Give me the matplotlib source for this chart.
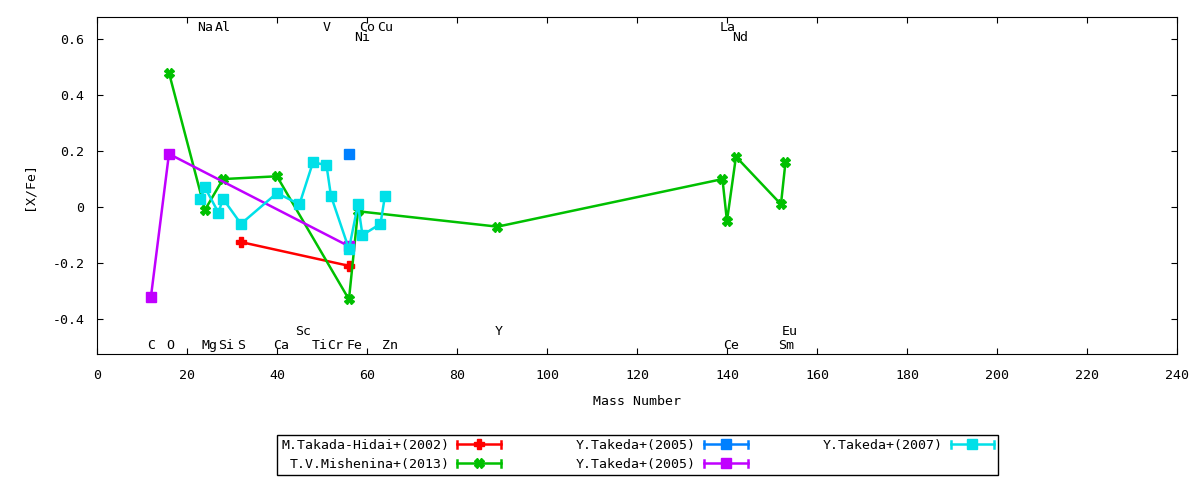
import numpy as np
import matplotlib
matplotlib.use("Agg")
import matplotlib.pyplot as plt
from matplotlib.lines import Line2D
from matplotlib.legend_handler import HandlerLine2D
from matplotlib.ticker import FuncFormatter

plt.rcParams['font.family'] = ['DejaVu Sans Mono']
plt.rcParams['font.size'] = 9.5

# M.Takada-Hidai+(2002)
takada_hidai_x = [32, 56]
takada_hidai_y = [-0.125, -0.21]

# T.V.Mishenina+(2013)
mishenina_x = [16, 24, 28, 40, 56, 58, 89, 139, 140, 142, 152, 153]
mishenina_y = [0.48, -0.01, 0.10, 0.11, -0.33, -0.015, -0.07, 0.10, -0.05, 0.18, 0.01, 0.16]

# Y.Takeda+(2005) single point
takeda05a_x = [56]
takeda05a_y = [0.19]

# Y.Takeda+(2005)
takeda05b_x = [12, 16, 56]
takeda05b_y = [-0.32, 0.19, -0.14]

# Y.Takeda+(2007)
takeda07_x = [23, 24, 27, 28, 32, 40, 45, 48, 51, 52, 56, 58, 59, 63, 64]
takeda07_y = [0.03, 0.07, -0.02, 0.03, -0.06, 0.05, 0.01, 0.16, 0.15, 0.04,
              -0.15, 0.01, -0.10, -0.06, 0.04]

# element names along top / bottom (name, mass number)
top_elems = [("Na", 24), ("Al", 28), ("V", 51), ("Co", 60), ("Cu", 64), ("La", 140.2)]
top_elems2 = [("Ni", 59), ("Nd", 142.9)]
bot_elems = [("C", 12), ("O", 16.2), ("Mg", 25.1), ("Si", 28.8), ("S", 32.1), ("Ca", 41),
             ("Ti", 49.4), ("Cr", 53), ("Fe", 57.2), ("Zn", 65.1), ("Ce", 140.9), ("Sm", 153.1)]
bot_elems2 = [("Sc", 45.9), ("Y", 89.3), ("Eu", 154)]


class CapHandler(HandlerLine2D):
    # gnuplot style key sample: line with end caps
    def create_artists(self, legend, orig_handle, xdescent, ydescent, width, height, fontsize, trans):
        arts = super().create_artists(legend, orig_handle, xdescent, ydescent, width, height, fontsize, trans)
        x0 = -xdescent
        x1 = x0 + width
        yc = height / 2 - ydescent
        c = height * 0.35
        cap = Line2D([x0, x0, np.nan, x1, x1], [yc - c, yc + c, np.nan, yc - c, yc + c],
                     color=orig_handle.get_color(), lw=orig_handle.get_linewidth(), transform=trans)
        return list(arts) + [cap]


fig = plt.figure(figsize=(12, 4.8), dpi=100)
ax = fig.add_axes([0.0808, 0.2625, 0.9, 0.702])

lw = 1.8
ms = 7
h1, = ax.plot(takada_hidai_x, takada_hidai_y, color='#ff0000', lw=lw, marker='P', ms=ms,
              label='M.Takada-Hidai+(2002)')
h2, = ax.plot(mishenina_x, mishenina_y, color='#00c000', lw=lw, marker='X', ms=ms,
              label='T.V.Mishenina+(2013)')
h3, = ax.plot(takeda05a_x, takeda05a_y, color='#0080ff', lw=lw, marker='s', ms=ms,
              label='Y.Takeda+(2005)')
h4, = ax.plot(takeda05b_x, takeda05b_y, color='#c000ff', lw=lw, marker='s', ms=ms,
              label='Y.Takeda+(2005)')
h5, = ax.plot(takeda07_x, takeda07_y, color='#00e0e8', lw=lw, marker='s', ms=ms,
              label='Y.Takeda+(2007)')

for name, m in top_elems:
    ax.text(m, 0.643, name, ha='center', va='center')
for name, m in top_elems2:
    ax.text(m, 0.607, name, ha='center', va='center')
for name, m in bot_elems:
    ax.text(m, -0.493, name, ha='center', va='center')
for name, m in bot_elems2:
    ax.text(m, -0.443, name, ha='center', va='center')

ax.set_xlim(0, 240)
ax.set_ylim(-0.525, 0.679)
ax.set_xticks(np.arange(0, 241, 20))
ax.set_yticks([-0.4, -0.2, 0, 0.2, 0.4, 0.6])
ax.yaxis.set_major_formatter(FuncFormatter(lambda v, p: '0' if abs(v) < 1e-9 else '%.1f' % v))
ax.tick_params(direction='in', length=4, top=True, right=True)
ax.tick_params(axis='x', pad=11)
ax.tick_params(axis='y', pad=9)
ax.set_xlabel('Mass Number', labelpad=9)
ax.set_ylabel('[X/Fe]', labelpad=12)

leg = fig.legend(handles=[h1, h2, h3, h4, h5], ncol=3, loc='center', bbox_to_anchor=(0.5315, 0.052),
                 markerfirst=False, numpoints=1, handlelength=3.3, handletextpad=0.6,
                 columnspacing=5.7, labelspacing=0.45, borderpad=0.3, borderaxespad=0,
                 fancybox=False, edgecolor='black', framealpha=1,
                 handler_map={Line2D: CapHandler()})
leg.get_frame().set_linewidth(1.0)

fig.savefig('out.png', dpi=100)
